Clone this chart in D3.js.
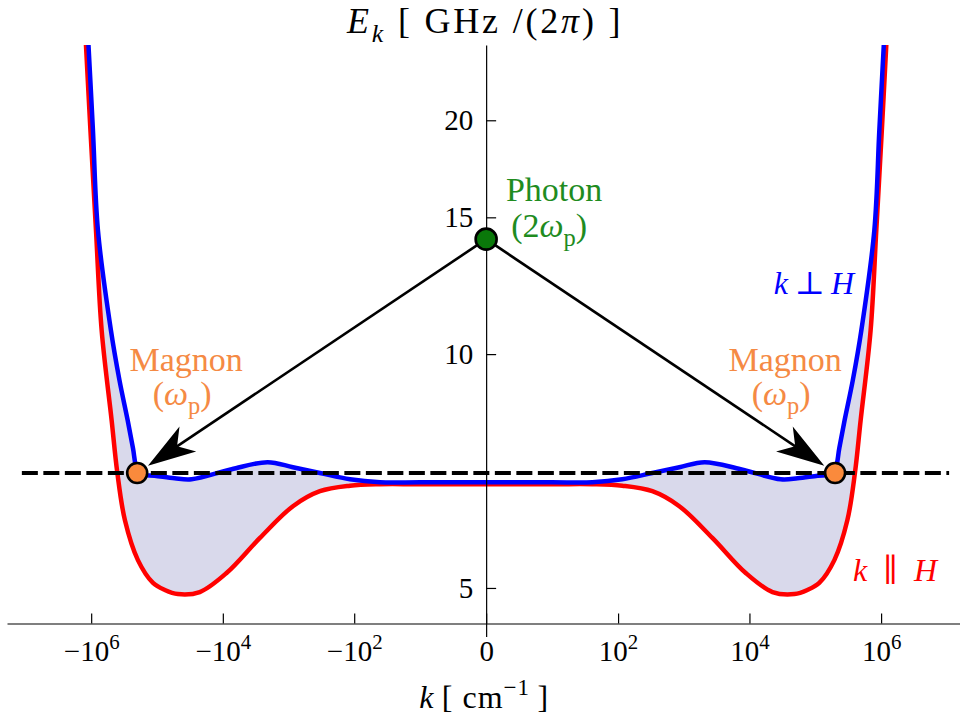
<!DOCTYPE html>
<html><head><meta charset="utf-8">
<script src="https://cdn.jsdelivr.net/npm/d3@7"></script>
<style>
body{margin:0;background:#fff}
svg{display:block}
text{font-family:"Liberation Serif","DejaVu Serif",serif}
</style>
</head><body>
<svg id="c" width="960" height="720"></svg>
<script>
// ---------- data ----------
const kTicks = [-1e6, -1e4, -1e2, 0, 1e2, 1e4, 1e6];
const kTickBase = ["\u221210", "\u221210", "\u221210", "0", "10", "10", "10"];
const kTickExp = ["6", "4", "2", "", "2", "4", "6"];
const eTicks = [5, 10, 15, 20];

// k ⊥ H (blue)
const kPerp = [-1.099e6, -9.40e5, -7.89e5, -5.01e5, -3.72e5, -2.79e5, -2.32e5, -2.00e5, -1.69e5, -1.09e5, -5.40e4, -2.98e4, -7350, -2080, -861, -334, -116, -40, -9, 0,
               9, 40, 116, 334, 861, 2080, 7350, 2.98e4, 5.40e4, 1.09e5, 1.69e5, 2.00e5, 2.32e5, 2.79e5, 3.72e5, 5.01e5, 7.89e5, 9.40e5, 1.099e6];
const ePerp = [25.0, 19.41, 14.43, 10.73, 9.26, 8.22, 7.57, 7.09, 7.00, 6.975, 6.92, 6.90, 7.11, 7.26, 7.15, 7.03, 6.90, 6.84, 6.84, 6.84,
               6.84, 6.84, 6.90, 7.03, 7.15, 7.26, 7.11, 6.90, 6.92, 6.975, 7.00, 7.09, 7.57, 8.22, 9.26, 10.73, 14.43, 19.41, 25.0];

// k ∥ H (red)
const kPar = [-1.20e6, -1.026e6, -8.45e5, -6.93e5, -4.89e5, -4.02e5, -3.07e5, -1.95e5, -1.15e5, -7.6e4, -4.83e4, -2.24e4, -8700, -2730, -860, -334, -116, -40, -10, 0,
              10, 40, 116, 334, 860, 2730, 8700, 2.24e4, 4.83e4, 7.6e4, 1.15e5, 1.95e5, 3.07e5, 4.02e5, 4.89e5, 6.93e5, 8.45e5, 1.026e6, 1.20e6];
const ePar = [25.0, 19.41, 14.43, 10.73, 8.22, 7.05, 6.11, 5.43, 5.075, 4.97, 4.91, 4.94, 5.23, 5.80, 6.37, 6.66, 6.77, 6.80, 6.80, 6.80,
              6.80, 6.80, 6.77, 6.66, 6.37, 5.80, 5.23, 4.94, 4.91, 4.97, 5.075, 5.43, 6.11, 7.05, 8.22, 10.73, 14.43, 19.41, 25.0];

const omegaP = 7.03;            // pump / magnon energy
const photonE = 14.06;          // 2 ω_p
const magnonK = [-2.0e5, 2.0e5];
const dashK = [-1.13e7, 1.08e7];

// ---------- scales ----------
const svg = d3.select("#c");
const x = d3.scaleSymlog().constant(1).domain([-1.9e7, 1.58e7]).range([7, 960]);
const y = d3.scaleLog().domain([4.5, 25]).range([623.5, 45]);
const yAxisScale = y.copy().domain([4.33, 25]).range([y(4.33), y(25)]);

const perp = kPerp.map((k, i) => ({k, E: ePerp[i]}));
const par = kPar.map((k, i) => ({k, E: ePar[i]}));

const curve = d3.curveCatmullRom.alpha(0.5);
const line = d3.line().x(d => x(d.k)).y(d => y(d.E)).curve(curve);

// ---------- fill between curves ----------
const defs = svg.append("defs");
defs.append("clipPath").attr("id", "aboveRed").append("path")
  .attr("d", d3.area().x(d => x(d.k)).y0(0).y1(d => y(d.E)).curve(curve)(par));
svg.append("path")
  .attr("d", d3.area().x(d => x(d.k)).y0(y(4.5)).y1(d => y(d.E)).curve(curve)(perp))
  .attr("clip-path", "url(#aboveRed)")
  .attr("fill", "#d9d9eb");

// ---------- curves ----------
svg.append("path").attr("d", line(par)).attr("fill", "none").attr("stroke", "#ff0000").attr("stroke-width", 4.5);
svg.append("path").attr("d", line(perp)).attr("fill", "none").attr("stroke", "#0000ff").attr("stroke-width", 4.5);

// ---------- rich text helper ----------
function rich(t, parts, size) {
  let shift = 0;
  parts.forEach(([s, o = {}]) => {
    const ts = t.append("tspan").text(s);
    if (o.i) ts.attr("font-style", "italic");
    const target = o.sub ? size * 0.25 : o.sup ? -size * 0.42 : 0;
    if (target - shift !== 0) ts.attr("dy", target - shift);
    shift = target;
    if (o.sub || o.sup) ts.attr("font-size", size * 0.72);
  });
}

// ---------- axes ----------
const xAxis = d3.axisBottom(x).tickValues(kTicks).tickSizeInner(-10).tickSizeOuter(0).tickPadding(17);
const gx = svg.append("g").attr("transform", `translate(0,${y(4.5)})`).call(xAxis);
gx.selectAll("text").each(function (d, i) {
  const t = d3.select(this).text(null).attr("font-size", 29).attr("fill", "#000");
  const parts = [[kTickBase[i]]];
  if (kTickExp[i]) parts.push([kTickExp[i], {sup: true}]);
  rich(t, parts, 29);
});

const yAxis = d3.axisLeft(yAxisScale).tickValues(eTicks).tickSizeInner(-10).tickSizeOuter(0).tickPadding(13)
  .tickFormat(d3.format("d"));
const gy = svg.append("g").attr("transform", `translate(${x(0)},0)`).call(yAxis);
gy.selectAll("text").attr("font-size", 29).attr("fill", "#000");

svg.selectAll(".domain, .tick line").attr("stroke", "#000").attr("stroke-width", 1.2);
svg.selectAll(".tick text").attr("font-family", "Liberation Serif");

// ---------- dashed ω_p line ----------
svg.append("line")
  .attr("x1", x(dashK[0])).attr("x2", x(dashK[1]))
  .attr("y1", y(omegaP)).attr("y2", y(omegaP))
  .attr("stroke", "#000").attr("stroke-width", 4).attr("stroke-dasharray", "16,5.5");

// ---------- arrows ----------
const px = x(0), py = y(photonE);
magnonK.forEach(k => {
  const mx = x(k), my = y(omegaP);
  const dx = mx - px, dy = my - py, L = Math.hypot(dx, dy);
  const ux = dx / L, uy = dy / L;
  const tipX = mx - ux * 13, tipY = my - uy * 13;
  const ang = Math.atan2(dy, dx) * 180 / Math.PI;
  svg.append("line").attr("x1", px).attr("y1", py)
    .attr("x2", tipX - ux * 34).attr("y2", tipY - uy * 34)
    .attr("stroke", "#000").attr("stroke-width", 2.6);
  svg.append("path").attr("d", "M0,0L-48,-15L-35,0L-48,15Z")
    .attr("transform", `translate(${tipX},${tipY}) rotate(${ang})`)
    .attr("fill", "#000");
});

// ---------- dots ----------
magnonK.forEach(k => {
  svg.append("circle").attr("cx", x(k)).attr("cy", y(omegaP)).attr("r", 10)
    .attr("fill", "#fa8a3c").attr("stroke", "#000").attr("stroke-width", 2.6);
});
svg.append("circle").attr("cx", px).attr("cy", py).attr("r", 10.5)
  .attr("fill", "#0a780a").attr("stroke", "#000").attr("stroke-width", 2.6);

// ---------- labels ----------
function label(xp, yp, parts, size, color, anchor, spacing) {
  const t = svg.append("text").attr("x", xp).attr("y", yp).attr("font-size", size)
    .attr("fill", color).attr("text-anchor", anchor || "middle");
  if (spacing) t.attr("letter-spacing", spacing);
  rich(t, parts, size);
  return t;
}
const green = "#1f8c1f", orange = "#f58a44";
label(px + 68, py - 38, [["Photon"]], 34, green);
label(px + 63, py - 2, [["(2"], ["\u03c9", {i: true}], ["p", {sub: true}], [")"]], 34, green);

magnonK.forEach(k => {
  const mx = x(k), my = y(omegaP);
  const off = k < 0 ? 49 : -50;
  label(mx + off, my - 102, [["Magnon"]], 34, orange);
  label(mx + off - 4, my - 68, [["("], ["\u03c9", {i: true}], ["p", {sub: true}], [")"]], 34, orange);
});

label(854, 294, [["k", {i: true}], ["\u2009\u22a5\u2009"], ["H", {i: true}]], 32, "#0000ff", "end");
label(937, 581, [["k", {i: true}], ["\u2002\u2225\u2002"], ["H", {i: true}]], 32, "#ff0000", "end");

// title & axis label
label(x(0) - 1, 33, [["E", {i: true}], ["k", {i: true, sub: true}], [" [ GHz /(2"], ["\u03c0", {i: true}], [") ]"]], 36, "#000", "middle", 2.8);
label(x(0) - 2, 708, [["k", {i: true}], ["\u2009[ cm"], ["\u22121", {sup: true}], ["\u2009]"]], 32, "#000", "middle", 1);
</script>
</body></html>
